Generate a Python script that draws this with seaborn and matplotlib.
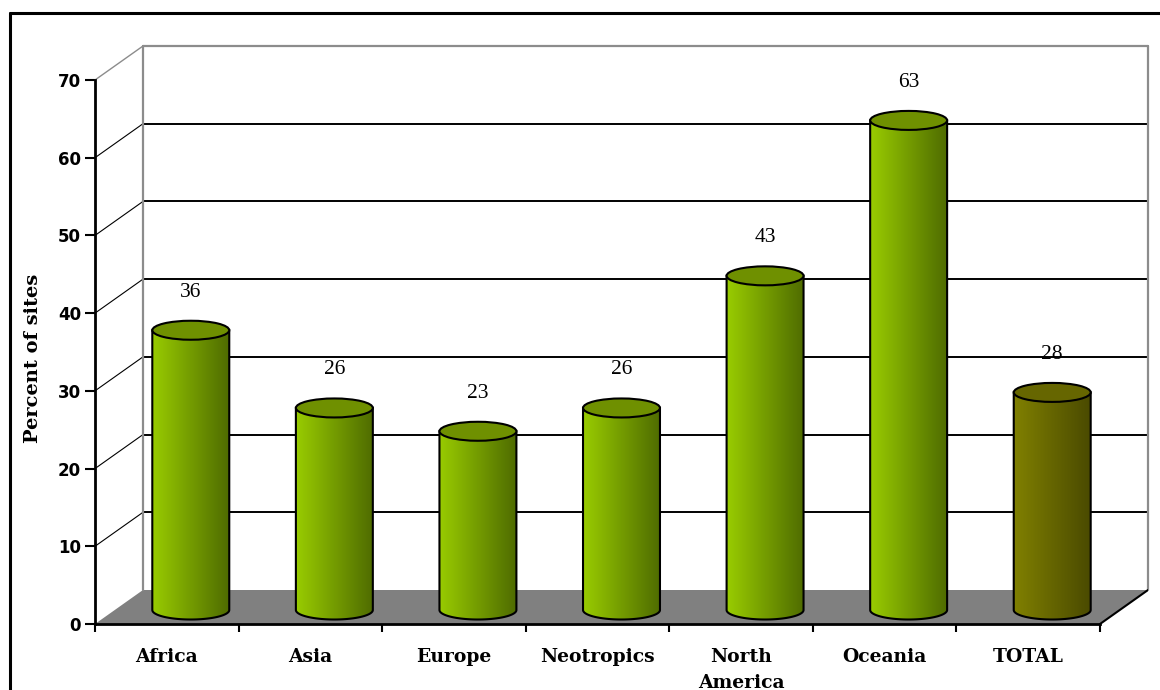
import numpy as np
import pandas as pd
import matplotlib
matplotlib.use("Agg")
import matplotlib.pyplot as plt
import seaborn as sns
from matplotlib.patches import Ellipse, Polygon
from matplotlib.lines import Line2D
from matplotlib.colors import to_rgb

categories = ["Africa", "Asia", "Europe", "Neotropics", "North\nAmerica", "Oceania", "TOTAL"]
values = [36, 26, 23, 26, 43, 63, 28]
value_labels = ["36", "26", "23", "26", "43", "63", "28"]
y_ticks = [0, 10, 20, 30, 40, 50, 60, 70]
y_label = "Percent of sites"

# colours: (left of body, right of body, top ellipse)
green = ("#99cc00", "#4f6c00", "#6f9000")
olive = ("#808000", "#4a4a00", "#666600")
bar_styles = [green, green, green, green, green, green, olive]

sns.set_theme(style="white")
plt.rcParams['font.family'] = ['DejaVu Sans']

W, H = 1160, 690
fig = plt.figure(figsize=(W / 100, H / 100), dpi=100)
ax = fig.add_axes([95 / W, 66 / H, 1053 / W, 578 / H])

df = pd.DataFrame({"region": categories, "value": values})
sns.barplot(data=df, x="region", y="value", ax=ax, width=0.536, color="#99cc00")

px_per_unit = 544 / 70.0
dx = 48 / (1053 / 7.334)   # depth offset in category units
dy = 34 / px_per_unit      # depth offset in value units
ymax = 578 / px_per_unit
eh = 19 / px_per_unit      # ellipse height in value units
base = 1.8                 # cylinder base sits at mid depth

bars = list(ax.patches)
for p, lab, st in zip(bars, value_labels, bar_styles):
    x0 = p.get_x() + dx / 2
    w = p.get_width()
    x1 = x0 + w
    c = x0 + w / 2
    yb = base
    yt = p.get_height() + base
    p.remove()
    th = np.linspace(np.pi, 2 * np.pi, 60)
    arc = np.column_stack([c + w / 2 * np.cos(th), yb + eh / 2 * np.sin(th)])
    verts = np.vstack([[[x0, yt]], arc, [[x1, yt]]])
    body = Polygon(verts, closed=True, facecolor="none", edgecolor="black",
                   lw=1.5, zorder=4)
    ax.add_patch(body)
    g = np.linspace(0, 1, 256)[:, None]
    img = (np.array(to_rgb(st[0]))[None, :] * (1 - g) +
           np.array(to_rgb(st[1]))[None, :] * g)[None, :, :]
    im = ax.imshow(img, extent=(x0, x1, yb - eh / 2, yt), aspect="auto",
                   origin="lower", zorder=3, interpolation="bilinear")
    im.set_clip_path(body)
    ax.add_patch(Ellipse((c, yt), w, eh, facecolor=st[2], edgecolor="black",
                         lw=1.5, zorder=5))
    ax.annotate(lab, (c, yt), xytext=(0, 27.5), textcoords="offset points",
                ha="center", va="center", fontsize=15.5,
                family="Liberation Serif", color="black", zorder=6)

xl, xr = -0.5, 6.5
# floor
ax.add_patch(Polygon([(xl, 0), (xr, 0), (xr + dx, dy), (xl + dx, dy)],
                     closed=True, facecolor="#808080", edgecolor="none", zorder=1))
ax.plot([xr, xr + dx], [0, dy], color="black", lw=1.5, zorder=2)
# back wall gridlines and left wall diagonals
for t in y_ticks[1:-1]:
    ax.plot([xl + dx, xr + dx], [t + dy, t + dy], color="black", lw=1.4, zorder=1.5)
    ax.plot([xl, xl + dx], [t, t + dy], color="black", lw=0.8, zorder=1.5)
# back wall edges
gray = "#8c8c8c"
ax.plot([xl + dx, xl + dx], [dy, 70 + dy], color=gray, lw=1.6, zorder=1.6, clip_on=False)
ax.plot([xr + dx, xr + dx], [dy, 70 + dy], color=gray, lw=1.6, zorder=1.6, clip_on=False)
ax.plot([xl + dx, xr + dx], [70 + dy, 70 + dy], color=gray, lw=1.6, zorder=1.6, clip_on=False)
ax.plot([xl, xl + dx], [70, 70 + dy], color=gray, lw=1.0, zorder=1.6, clip_on=False)

ax.set_xlim(xl, xr + dx)
ax.set_ylim(0, ymax)
for s in ["top", "right"]:
    ax.spines[s].set_visible(False)
for s in ["left", "bottom"]:
    ax.spines[s].set_visible(True)
    ax.spines[s].set_color("black")
    ax.spines[s].set_linewidth(2)
    ax.spines[s].set_zorder(6)
ax.spines["left"].set_bounds(0, 70)
ax.spines["bottom"].set_bounds(xl, xr)

ax.set_yticks(y_ticks)
ax.set_yticklabels([str(v) for v in y_ticks], fontweight="bold", fontsize=12)
ax.tick_params(axis="y", left=True, length=7, width=1.5, direction="out",
               pad=3, color="black", labelcolor="black")
ax.set_xticks(range(len(categories)))
ax.set_xticklabels(categories, fontweight="bold", family="DejaVu Serif",
                   fontsize=13.5, linespacing=1.6)
ax.set_xticks(np.arange(xl, xr + 0.01, 1), minor=True)
ax.tick_params(axis="x", which="major", bottom=True, length=0, pad=17,
               labelcolor="black")
ax.tick_params(axis="x", which="minor", bottom=True, length=6, width=1.5,
               direction="out", color="black")
ax.set_xlabel("")
ax.set_ylabel(y_label, fontweight="bold", family="DejaVu Serif", fontsize=14,
              color="black")
ax.yaxis.set_label_coords(-0.05, 0.46)
ax.grid(False)
ax.set_facecolor("white")

# outer frame
fx = 10 / W
fy = 1 - 13 / H
fig.add_artist(Line2D([fx, fx], [0, fy], transform=fig.transFigure, color="black", lw=2.2))
fig.add_artist(Line2D([fx, 1], [fy, fy], transform=fig.transFigure, color="black", lw=2.2))

fig.savefig("out.png", dpi=100)
